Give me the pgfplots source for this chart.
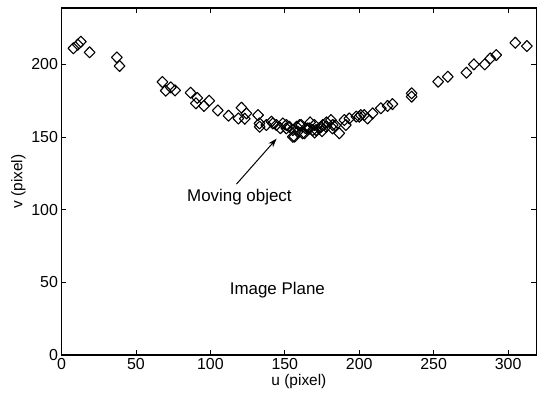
\documentclass[border=0pt]{standalone}
\usepackage{pgfplots}
\pgfplotsset{compat=1.18}
\usetikzlibrary{arrows.meta}
\usepackage{fontspec}
\setmainfont{Liberation Sans}

\begin{document}
\begin{tikzpicture}
\begin{axis}[
    scale only axis,
    width=475bp, height=347bp,
    xmin=0, xmax=319,
    ymin=0, ymax=238.7,
    xtick={0,50,...,300},
    ytick={0,50,...,200},
    tick align=inside,
    major tick length=5bp,
    axis line style={line width=1.2pt},
    every tick/.style={line width=0.8pt, black},
    /pgf/number format/assume math mode=true,
    tick label style={font=\fontsize{16}{19}\selectfont},
    label style={font=\fontsize{15.5}{18}\selectfont},
    xlabel={u (pixel)},
    ylabel={v (pixel)},
    xlabel style={yshift=2bp},
    ylabel style={yshift=-1bp},
    clip=false,
]
% measured points (diamonds)
\addplot[only marks, mark=diamond, mark size=5.5bp, line width=1.1pt, black,
    mark options={xscale=1.3, line join=round}]
coordinates {
    (8,211) (11,213.5) (13,215.5) (18.9,208.2) (37.2,204.7) (39.0,198.8)
    (67.8,187.8) (70.0,181.8) (73.4,184.1) (76.3,182.0) (86.7,180.4)
    (91.2,176.8) (90.3,173.1) (95.7,171.3) (99.2,174.9) (105,168.2)
    (112.2,164.6) (118.8,162.7) (120.9,170.1) (124.2,166.2) (123.1,162.5)
    (132,165) (133,159.3) (133.1,157) (137.6,158.2) (141,160.5) (142,159.3)
    (144.3,158.2) (147,156) (148.7,159.3) (151,155.9) (151,158.2) (153,157)
    (155.4,154.7) (155.4,150.1) (156.5,150.2) (158,157) (158.7,153.6)
    (160,158.2) (161,158.2) (162,152.5) (163.2,152.5) (164,156)
    (165.4,155.9) (166.6,155.9) (167,160) (168.8,154.7) (169.9,158.2)
    (170,153) (171,154.7) (173.2,155.9) (174.4,157) (175,154) (175.5,158.2)
    (177.7,157) (178,160) (181,161.6) (182,155.9) (182.2,158.2) (184,158)
    (186.6,152.5) (190,161.6) (191,158.2) (193.3,162.7) (198,164)
    (200,163.9) (201,165) (203.3,165) (205.6,162.7) (209,166.2)
    (214.5,169.7) (219,171.3) (222.3,172.6) (235.2,180) (235.2,177.7)
    (253,188) (259.5,191.4) (272,194.2) (277,199.9) (284.3,199.9)
    (288,204) (292,206.3) (304.8,214.8) (312.6,212.5)
};
\draw[line width=1pt, -{Stealth[length=9bp, width=6bp]}]
    (axis cs:117.5,117.5) -- (axis cs:144.5,148.8);
\node[font=\fontsize{17}{20}\selectfont] at (axis cs:119.5,108.7) {Moving object};
\node[font=\fontsize{17}{20}\selectfont] at (axis cs:145,44.7) {Image Plane};
\end{axis}
\useasboundingbox (-61.5bp,-50bp) rectangle (475.5bp,355bp);
\end{tikzpicture}
\end{document}
